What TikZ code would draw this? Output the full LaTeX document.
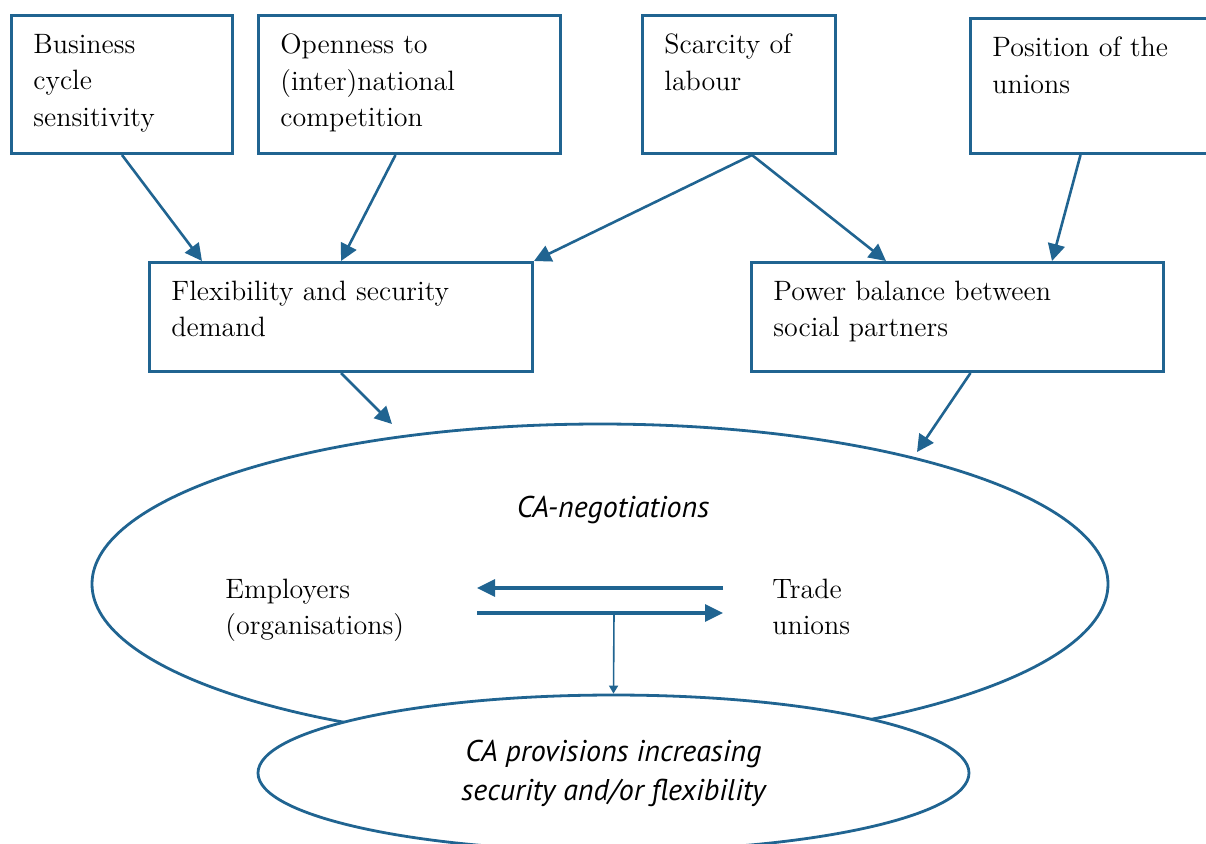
\documentclass[tikz,border=0pt]{standalone}
\usepackage{fontspec}
\newfontfamily\notefont{PT Sans}
\usetikzlibrary{arrows.meta,shapes.geometric}
\definecolor{flowblue}{RGB}{32,100,145}
\tikzset{
  factor/.style={draw=flowblue, line width=1.5pt, rectangle, inner sep=0pt, anchor=north west},
  factortext/.style={anchor=north west, inner sep=0pt, align=left, font=\fontsize{14}{18.3}\selectfont},
  arena/.style={draw=flowblue, line width=1.4pt, ellipse, inner sep=0pt},
  notetext/.style={font=\notefont\itshape\fontsize{15}{19.5}\selectfont},
  link/.style={draw=flowblue, line width=1.3pt, -{Triangle[length=8.5pt,width=8.5pt]}},
  swap/.style={draw=flowblue, line width=1.6pt, -{Triangle[length=9pt,width=8.5pt]}},
  drop/.style={draw=flowblue, line width=0.8pt, -{Triangle[length=4pt,width=4.5pt]}}
}
\begin{document}
\begin{tikzpicture}[x=0.5pt,y=-0.5pt]
  \useasboundingbox (0,0) rectangle (1206,843);

  % Draw the factor boxes with their texts
  \foreach \nm/\l/\t/\r/\b/\txt in {
      busi/10/14/231/152/{Business\\cycle\\sensitivity},
      open/257/14/559/152/{Openness to\\(inter)national\\competition},
      scar/641/14/834/152/{Scarcity of\\labour},
      posi/969/17/1216/152/{Position of the\\unions},
      flex/148/261/531/370/{Flexibility and security\\demand},
      powr/750/261/1162/370/{Power balance between\\social partners}} {
    \node[factor, minimum width=(\r-\l)*0.5pt, minimum height=(\b-\t)*0.5pt] (\nm) at (\l,\t) {};
    \node[factortext] (\nm-text) at (\l+23,\t+19.5) {\txt};
  }

  % Draw the negotiation ellipses
  \node[arena, minimum width=508pt, minimum height=160pt] (negot) at (600,584) {};
  \node[arena, fill=white, minimum width=355.5pt, minimum height=78pt, align=center, notetext] (prov) at (613.5,773) {CA provisions increasing\\security and/or flexibility};

  % Draw the texts inside the big ellipse
  \node[notetext, anchor=base, inner sep=0pt] (talks) at (613,517) {CA-negotiations};
  \node[factortext] (empl) at (225,578.5) {Employers\\(organisations)};
  \node[factortext] (trade) at (772,578.5) {Trade\\unions};

  % Draw the arrows between the boxes
  \coordinate (negL) at (392,424);
  \coordinate (negR) at (917,452);
  \draw[link] (busi.south) -- ([xshift=27pt]flex.north west);
  \draw[link] ([xshift=-7pt]open.south) -- (flex.north);
  \draw[link] ([xshift=6.5pt]scar.south) -- (flex.north east);
  \draw[link] ([xshift=6.5pt]scar.south) -- ([xshift=68pt]powr.north west);
  \draw[link] ([xshift=-6.75pt]posi.south) -- ([xshift=151pt]powr.north west);
  \draw[link] (flex.south) -- (negL);
  \draw[link] ([xshift=6.5pt]powr.south) -- (negR);

  % Draw the exchange between the partners
  \coordinate (offerR) at (723,588);
  \coordinate (offerL) at (477,588);
  \coordinate (claimL) at (477,613);
  \coordinate (claimR) at (723,613);
  \coordinate (split) at (614,613);
  \draw[swap] (offerR) -- (offerL);
  \draw[swap] (claimL) -- (claimR);
  \draw[drop] (split) -- (prov.north);
\end{tikzpicture}
\end{document}
